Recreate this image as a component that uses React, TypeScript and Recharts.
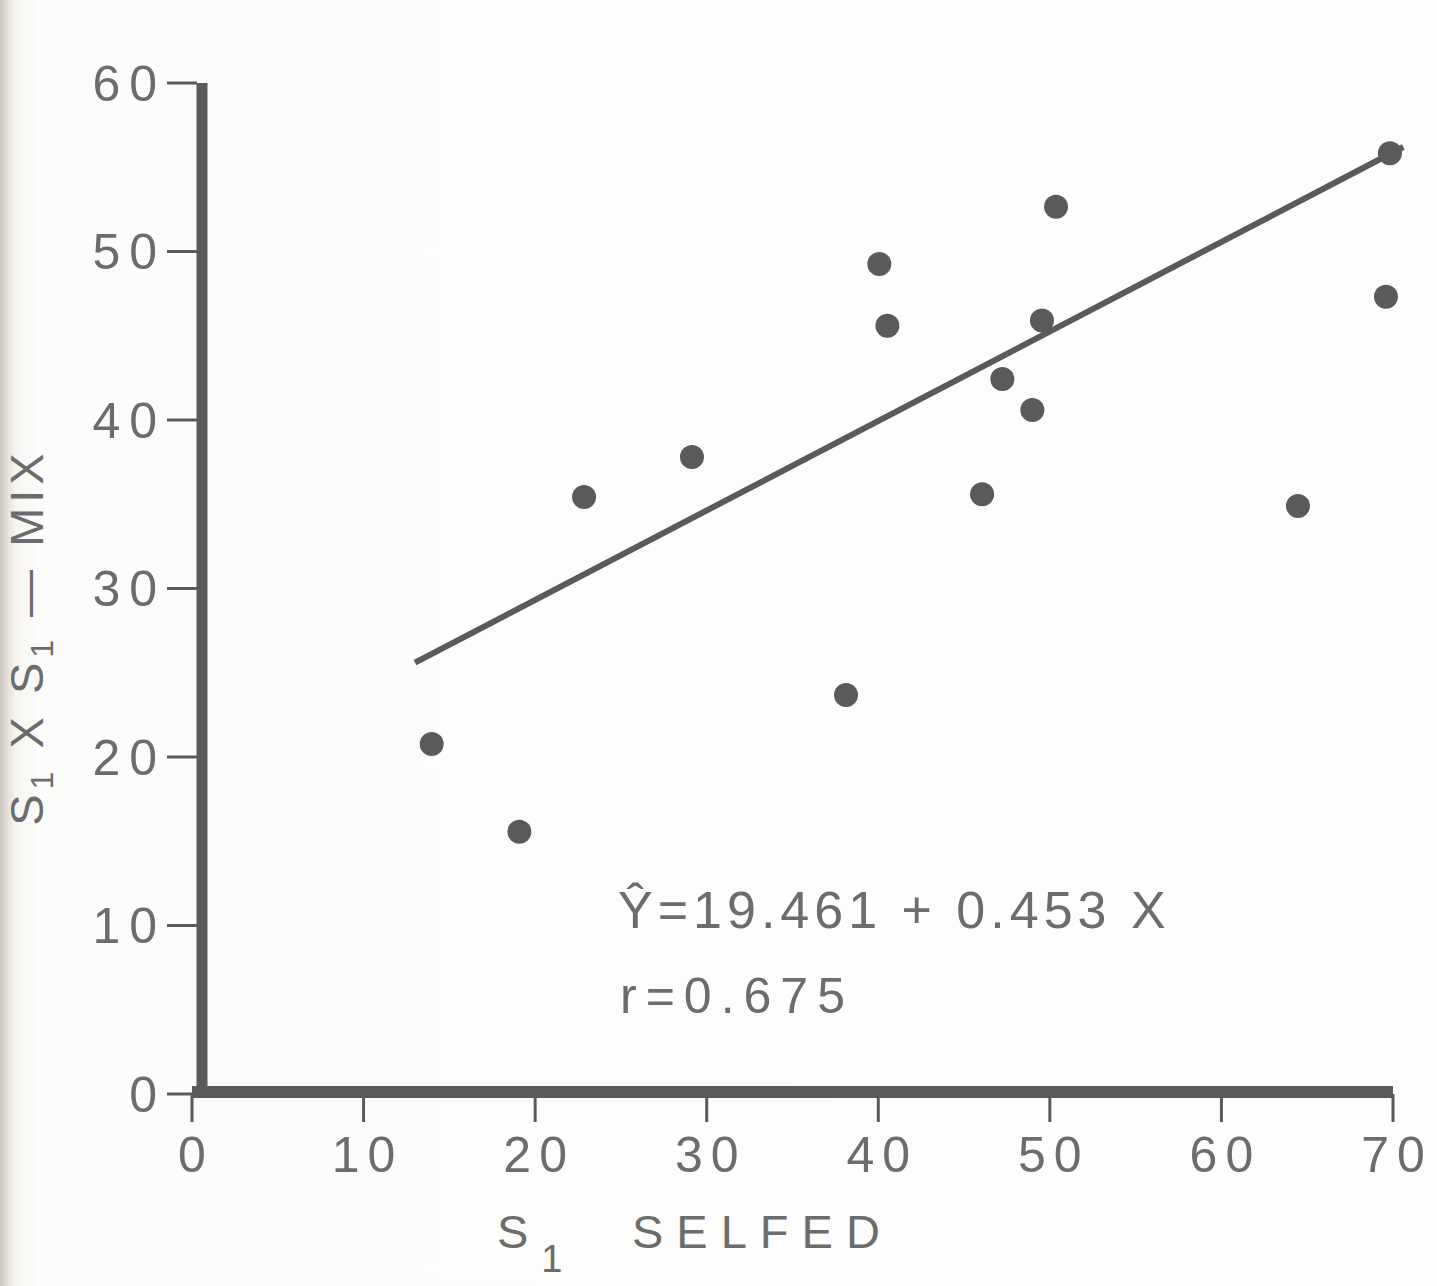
import { ScatterChart, Scatter, XAxis, YAxis, ReferenceLine } from 'recharts';

// S1 selfed (x) vs S1 x S1 - mix (y)
const selfedX = [13.97, 19.08, 22.85, 29.14, 38.12, 40.06, 40.53, 46.05, 47.23, 48.98, 49.54, 50.36, 64.46, 69.59, 69.82];
const mixY = [20.77, 15.57, 35.43, 37.8, 23.68, 49.26, 45.6, 35.6, 42.43, 40.6, 45.9, 52.66, 34.9, 47.32, 55.83];

// fitted line, as drawn
const fitX = [13.0, 70.6];
const fitY = [25.6, 56.2];

const xTicks = [0, 10, 20, 30, 40, 50, 60, 70];
const yTicks = [0, 10, 20, 30, 40, 50, 60];

const INK = '#5a5a5a';
const TEXT = '#6c6c6c';
const FONT = '"Liberation Sans", Arial, Helvetica, sans-serif';

const points = selfedX.map((x, i) => ({ x, y: mixY[i] }));

const Dot = (props: any) => <circle cx={props.cx} cy={props.cy} r={12} fill={INK} />;

export default function App() {
  return (
    <div
      style={{
        position: 'absolute',
        left: 0,
        top: 0,
        width: 1437,
        height: 1286,
        background: 'linear-gradient(to right, #cdc8bf 0px, #e4e0d8 7px, #f6f5f1 16px, #fcfcfb 40px, #fdfdfd 100%)',
      }}
    >
      <ScatterChart width={1437} height={1286} margin={{ top: 83, right: 44, bottom: 132, left: 72 }}>
        <XAxis
          type="number"
          dataKey="x"
          domain={[0, 70]}
          ticks={xTicks}
          interval={0}
          height={60}
          tickSize={28}
          tickMargin={14}
          axisLine={{ stroke: INK, strokeWidth: 12, transform: 'translate(0,-2)' }}
          tickLine={{ stroke: INK, strokeWidth: 3 }}
          tick={{ fill: TEXT, fontSize: 50, fontFamily: FONT, letterSpacing: 8, dx: 4 }}
        />
        <YAxis
          type="number"
          dataKey="y"
          domain={[0, 60]}
          ticks={yTicks}
          interval={0}
          width={120}
          tickSize={30}
          tickMargin={0}
          axisLine={{ stroke: INK, strokeWidth: 11, transform: 'translate(10,0)' }}
          tickLine={{ stroke: INK, strokeWidth: 3, transform: 'translate(5,0)' }}
          tick={{ fill: TEXT, fontSize: 50, fontFamily: FONT, letterSpacing: 9, dx: 4 }}
        />
        <Scatter data={points} fill={INK} shape={Dot} isAnimationActive={false} />
        <ReferenceLine
          segment={[
            { x: fitX[0], y: fitY[0] },
            { x: fitX[1], y: fitY[1] },
          ]}
          stroke={INK}
          strokeWidth={6}
          ifOverflow="visible"
        />
      </ScatterChart>

      {/* axis titles and the fit equation */}
      <svg
        width={1437}
        height={1286}
        style={{ position: 'absolute', left: 0, top: 0, pointerEvents: 'none' }}
        fontFamily={FONT}
        fill={TEXT}
      >
        <text x={43} y={637} transform="rotate(-90 43 637)" textAnchor="middle" fontSize={47} letterSpacing={5}>
          S<tspan fontSize={32} dy={10}>1</tspan>
          <tspan dy={-10}> X S</tspan>
          <tspan fontSize={32} dy={10}>1</tspan>
          <tspan dy={-10}> — MIX</tspan>
        </text>

        <text x={497} y={1248} fontSize={47} letterSpacing={13}>
          S<tspan fontSize={38} dy={24}>1</tspan>
          <tspan x={632} dy={-24}>SELFED</tspan>
        </text>

        <text x={618} y={928} fontSize={52} letterSpacing={5}>Ŷ=19.461 + 0.453 X</text>
        <text x={620} y={1013} fontSize={50} letterSpacing={9}>r=0.675</text>
      </svg>
    </div>
  );
}
